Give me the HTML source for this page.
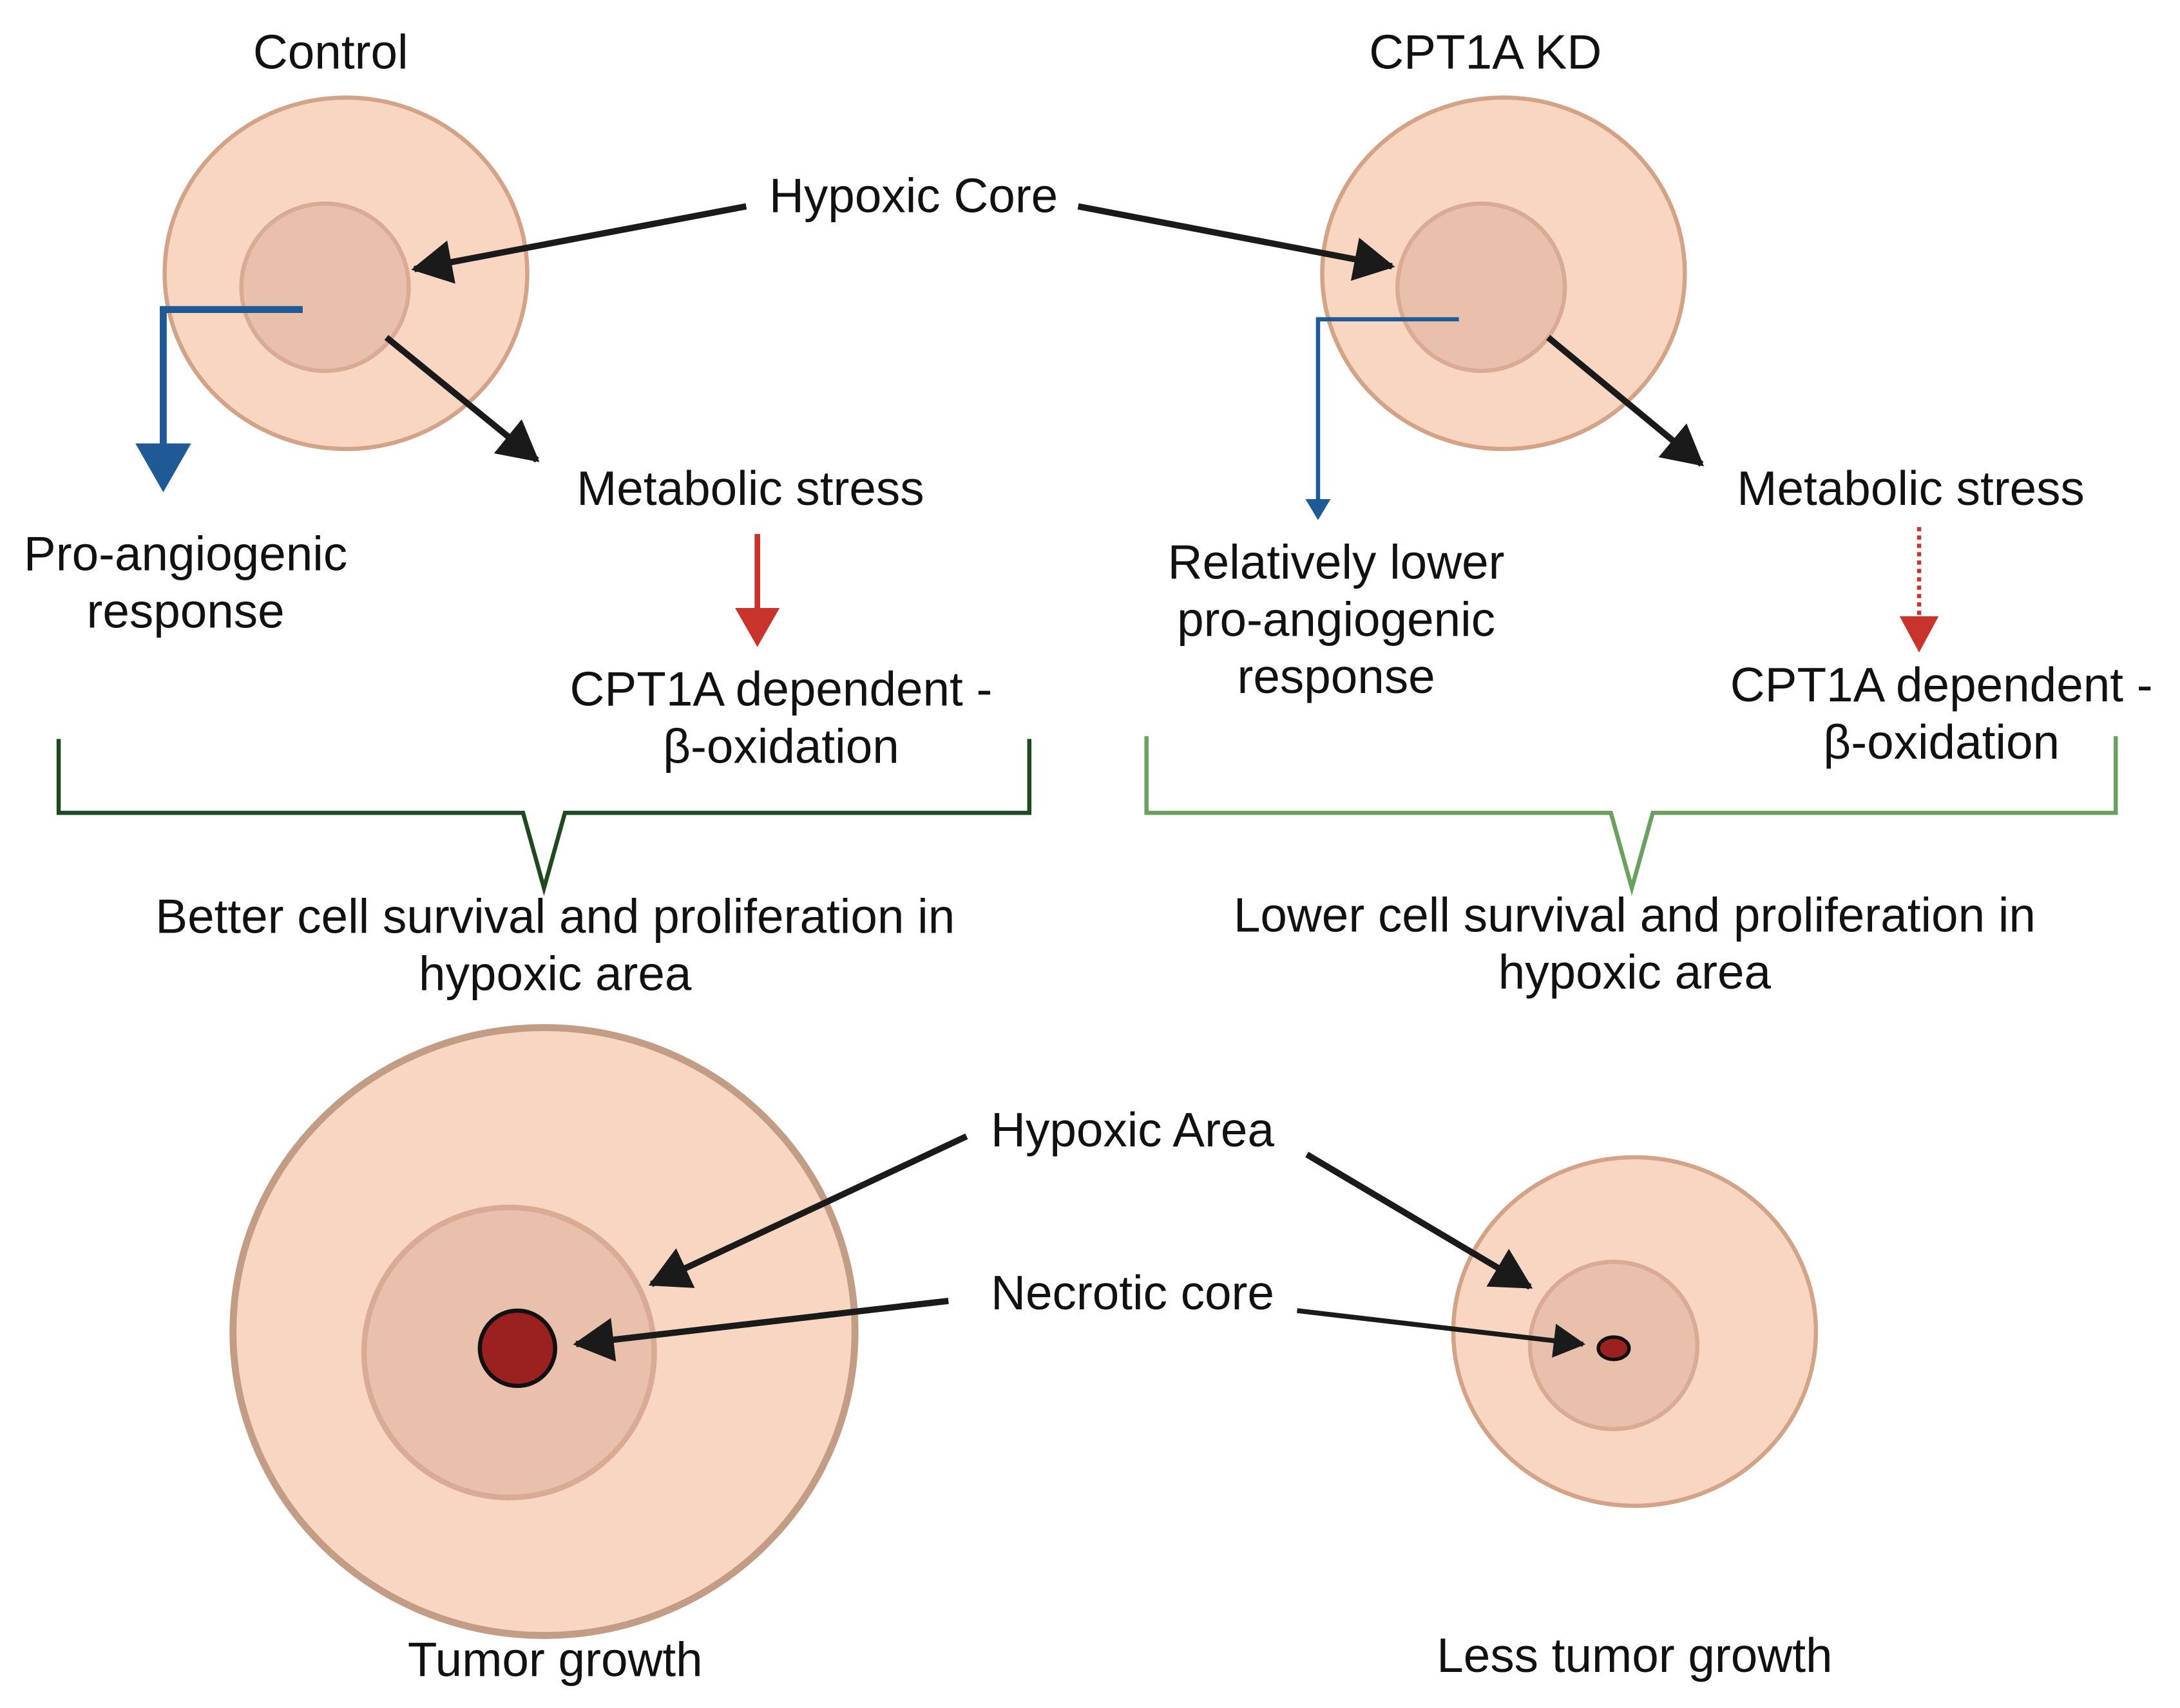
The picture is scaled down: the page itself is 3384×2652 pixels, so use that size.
<!DOCTYPE html>
<html><head><meta charset="utf-8"><style>html,body{margin:0;padding:0;background:#fff}svg{display:block}</style></head>
<body>
<svg width="3384" height="2652" viewBox="0 0 1563 1225" xmlns="http://www.w3.org/2000/svg">
<defs>
<marker id="ab" markerWidth="8" markerHeight="8" refX="6" refY="4" orient="auto" markerUnits="strokeWidth"><path d="M0,0.5 L6.5,4 L0,7.5 z" fill="#1a1a1a"/></marker>
<marker id="ablue" markerWidth="6" markerHeight="6" refX="4" refY="3" orient="auto" markerUnits="strokeWidth"><path d="M0,0 L5,3 L0,6 z" fill="#1f5a96"/></marker>
<marker id="ablue2" markerWidth="8" markerHeight="8" refX="6" refY="4" orient="auto" markerUnits="strokeWidth"><path d="M0,0 L7,4 L0,8 z" fill="#1f5a96"/></marker>
<marker id="ared" markerWidth="8" markerHeight="8" refX="6" refY="4" orient="auto" markerUnits="strokeWidth"><path d="M0,0 L7,4 L0,8 z" fill="#c8332c"/></marker>
</defs>
<g font-family="Liberation Sans, sans-serif" font-size="34.5" fill="#111" text-anchor="middle" dominant-baseline="middle">
<text x="237" y="40">Control</text>
<text x="1065" y="40">CPT1A KD</text>
<text x="655" y="143">Hypoxic Core</text>
<text x="538" y="353">Metabolic stress</text>
<text x="133" y="400">Pro-angiogenic</text>
<text x="133" y="441">response</text>
<text x="560" y="497">CPT1A dependent -</text>
<text x="560" y="538">β-oxidation</text>
<text x="398" y="660">Better cell survival and proliferation in</text>
<text x="398" y="701">hypoxic area</text>
<text x="1370" y="353">Metabolic stress</text>
<text x="958" y="406">Relatively lower</text>
<text x="958" y="447">pro-angiogenic</text>
<text x="958" y="488">response</text>
<text x="1392" y="494">CPT1A dependent -</text>
<text x="1392" y="535">β-oxidation</text>
<text x="1172" y="659">Lower cell survival and proliferation in</text>
<text x="1172" y="700">hypoxic area</text>
<text x="812" y="813">Hypoxic Area</text>
<text x="812" y="930">Necrotic core</text>
<text x="398" y="1193">Tumor growth</text>
<text x="1172" y="1190">Less tumor growth</text>
</g>
<ellipse cx="248" cy="196" rx="130" ry="126" fill="#f9d6c2" stroke="#d3a387" stroke-width="3"/>
<circle cx="233" cy="206" r="60" fill="#e8c0ac" stroke="#d9ab94" stroke-width="3"/>
<ellipse cx="1078" cy="196" rx="130" ry="126" fill="#f9d6c2" stroke="#d3a387" stroke-width="3"/>
<circle cx="1062" cy="206" r="60" fill="#e8c0ac" stroke="#d9ab94" stroke-width="3"/>
<ellipse cx="390" cy="955" rx="223" ry="218" fill="#f9d6c2" stroke="#c29c84" stroke-width="5"/>
<circle cx="365" cy="970" r="104" fill="#e8c0ac" stroke="#d9ab94" stroke-width="4"/>
<circle cx="371" cy="967" r="27" fill="#9b2020" stroke="#111" stroke-width="3"/>
<ellipse cx="1172" cy="955" rx="130" ry="125" fill="#f9d6c2" stroke="#d3a387" stroke-width="3"/>
<circle cx="1157" cy="965" r="60" fill="#e8c0ac" stroke="#d9ab94" stroke-width="3"/>
<ellipse cx="1157" cy="967" rx="11" ry="8" fill="#9b2020" stroke="#111" stroke-width="2.5"/>
<g stroke="#1a1a1a" stroke-width="4.5" fill="none">
<line x1="535" y1="148" x2="297" y2="193" marker-end="url(#ab)"/>
<line x1="773" y1="148" x2="998" y2="191" marker-end="url(#ab)"/>
<line x1="277" y1="242" x2="385" y2="330" marker-end="url(#ab)"/>
<line x1="1110" y1="242" x2="1220" y2="333" marker-end="url(#ab)"/>
<line x1="693" y1="815" x2="467" y2="921" marker-end="url(#ab)"/>
<line x1="937" y1="828" x2="1097" y2="923" marker-end="url(#ab)"/>
<line x1="680" y1="933" x2="413" y2="964" marker-end="url(#ab)"/>
<line x1="930" y1="940" x2="1135" y2="964" stroke-width="3.5" marker-end="url(#ab)"/>
</g>
<polyline points="217,222 117,222 117,348" stroke="#1f5a96" stroke-width="5" fill="none" marker-end="url(#ablue2)"/>
<polyline points="1046,229 945,229 945,370" stroke="#1f5a96" stroke-width="3" fill="none" marker-end="url(#ablue)"/>
<line x1="543" y1="383" x2="543" y2="460" stroke="#c8332c" stroke-width="4" marker-end="url(#ared)"/>
<line x1="1376" y1="378" x2="1376" y2="446" stroke="#c8332c" stroke-width="3" stroke-dasharray="3,3"/>
<path d="M1362,442 L1390,442 L1376,468 z" fill="#c8332c"/>
<path d="M42,530 L42,583 L375,583 L390,637 L405,583 L738,583 L738,530" fill="none" stroke="#1f4a1f" stroke-width="3"/>
<path d="M822,528 L822,583 L1155,583 L1170,637 L1185,583 L1517,583 L1517,528" fill="none" stroke="#6aa060" stroke-width="3"/>
</svg>
</body></html>
